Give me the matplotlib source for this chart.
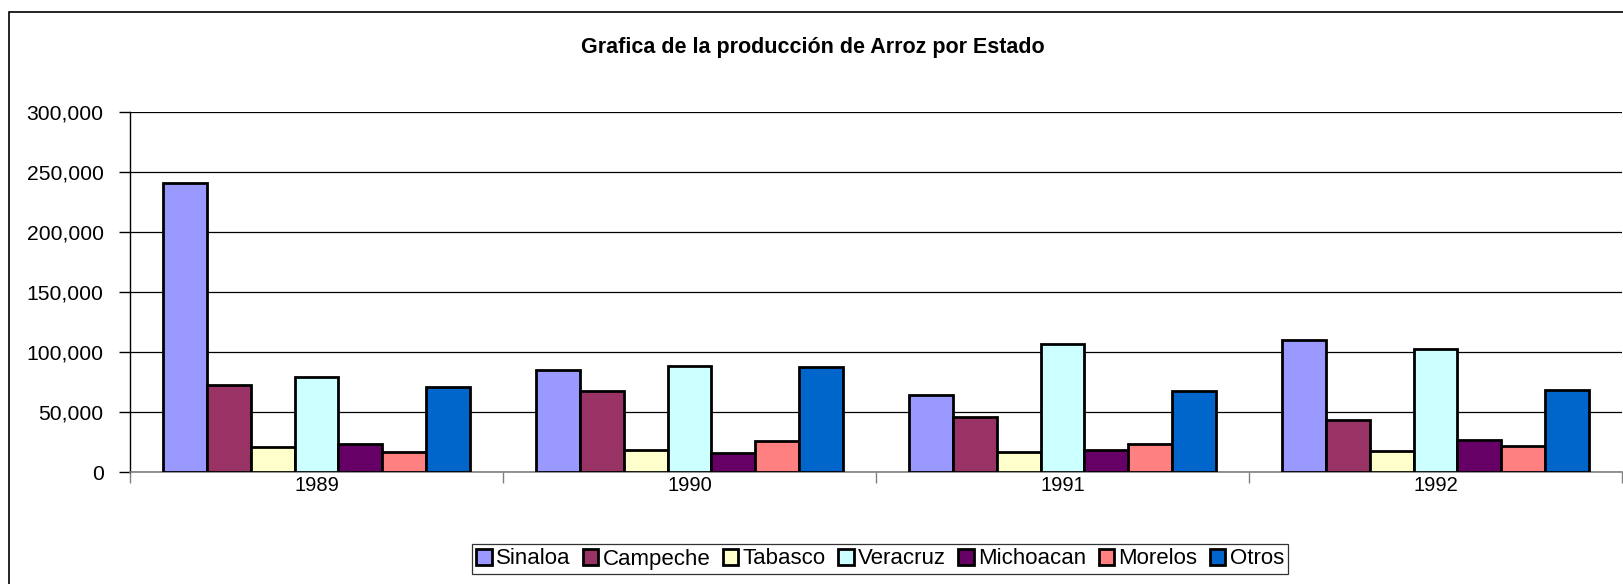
import numpy as np
import matplotlib
matplotlib.use("Agg")
from matplotlib import pyplot as plt
from matplotlib.patches import Rectangle
from matplotlib.ticker import FuncFormatter

years = ['1989', '1990', '1991', '1992']
estados = ['Sinaloa', 'Campeche', 'Tabasco', 'Veracruz', 'Michoacan', 'Morelos', 'Otros']
colores = ['#9999FF', '#993366', '#FFFFCC', '#CCFFFF', '#660066', '#FF8080', '#0066CC']

sinaloa = [240600, 85000, 64200, 110000]
campeche = [72500, 67800, 46100, 43300]
tabasco = [20500, 18300, 17000, 17500]
veracruz = [78900, 88600, 107000, 102800]
michoacan = [23000, 16100, 18300, 26700]
morelos = [16400, 26100, 23300, 21700]
otros = [71100, 87500, 67500, 68300]
series = [sinaloa, campeche, tabasco, veracruz, michoacan, morelos, otros]

plt.rcParams['font.family'] = ['Liberation Sans', 'DejaVu Sans']

fig = plt.figure(figsize=(16.24, 5.84), dpi=100)
ax = fig.add_axes([130/1624, 1-472/584, (1622-130)/1624, 360/584])

w = 1/8.5
x = np.arange(len(years)) + 0.5
for j, (nombre, vals) in enumerate(zip(estados, series)):
    ax.bar(x + (j-3)*w, vals, w, color=colores[j], edgecolor='black',
           linewidth=2, label=nombre, zorder=3)

ax.set_xlim(0, 4)
ax.set_ylim(0, 300000)
ax.set_yticks(np.arange(0, 300001, 50000))
ax.yaxis.set_major_formatter(FuncFormatter(lambda v, p: '{:,.0f}'.format(v)))
ax.grid(axis='y', color='black', linewidth=0.9, zorder=0)
ax.set_axisbelow(True)

# ticks at category edges, labels in the middle
ax.set_xticks([0, 1, 2, 3, 4])
ax.set_xticklabels([])
ax.set_xticks(x, minor=True)
ax.set_xticklabels(years, minor=True)
ax.tick_params(axis='x', which='major', length=8, width=1, color='#808080', direction='out')
ax.tick_params(axis='x', which='minor', length=0, pad=3, labelsize=14.5)
ax.tick_params(axis='y', length=8, width=1, direction='out', pad=11, labelsize=15.2)

for s in ['top', 'right']:
    ax.spines[s].set_visible(False)
ax.spines['bottom'].set_color('#808080')
ax.spines['bottom'].set_linewidth(1.2)
ax.spines['left'].set_linewidth(1)

fig.text(0.5006, 1-47/584, 'Grafica de la producción de Arroz por Estado',
         ha='center', va='center', fontsize=15.5, fontweight='bold')

leg = fig.legend(loc='center', bbox_to_anchor=(880/1624, 1-559/584), ncol=7,
                 fontsize=16, frameon=True, fancybox=False, edgecolor='black',
                 handlelength=0.7, handleheight=0.7, handletextpad=0.2,
                 columnspacing=0.55, borderpad=0.2, borderaxespad=0)
leg.get_frame().set_linewidth(0.9)

# outer chart border (cut by the image on the right and bottom)
fig.add_artist(Rectangle((9.5/1624, -0.1), 1.2, 1.1-12/584, transform=fig.transFigure,
                         fill=False, edgecolor='black', linewidth=1.2, clip_on=False))

fig.savefig('out.png', dpi=100)
